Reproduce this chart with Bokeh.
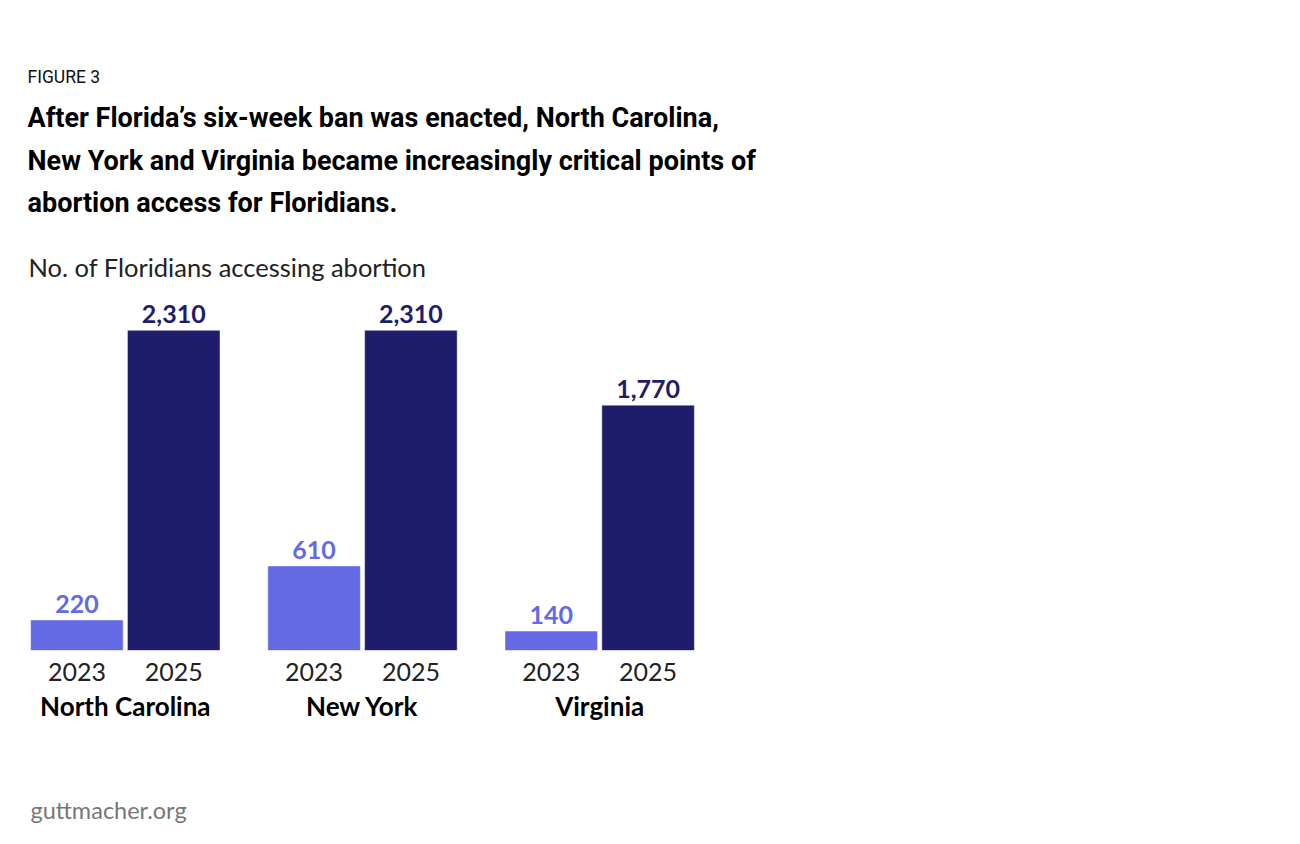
from bokeh.plotting import figure
from bokeh.layouts import column
from bokeh.models import ColumnDataSource, FactorRange, Range1d, LabelSet
from bokeh.transform import factor_cmap
from bokeh.core.properties import value
from bokeh.embed import file_html
from bokeh.resources import INLINE

# --- data -------------------------------------------------------------
states = ["North Carolina", "New York", "Virginia"]
years = ["2023", "2025"]
floridians_2023 = [220, 610, 140]
floridians_2025 = [2310, 2310, 1770]

factors = [(s, y) for s in states for y in years]
counts = [v for pair in zip(floridians_2023, floridians_2025) for v in pair]
count_labels = [f"{v:,}" for v in counts]

src = ColumnDataSource(dict(x=factors, count=counts, label=count_labels))

# --- styling ------------------------------------------------------------
LIGHT = "#6469E4"
DARK = "#1F1C6B"
BODY_FONT = "Lato"
HEAD_FONT = "Roboto"
W = 1300
HEADER_H, CHART_H, FOOTER_H = 290, 470, 84


def text_panel(height):
    """A blank strip whose data units are its own pixels (y grows downward)."""
    f = figure(width=W, height=height, x_range=Range1d(0, W), y_range=Range1d(height, 0),
               output_backend="svg", toolbar_location=None,
               x_axis_location=None, y_axis_location=None,
               min_border=0, outline_line_color=None, frame_align=False,
               background_fill_color="white", border_fill_color="white")
    f.grid.visible = False
    return f


def put(f, text, x, y, font, size, style="normal", color="#111111"):
    f.text(x=[x], y=[y], text=[text], text_align="left", text_baseline="alphabetic",
           text_font=value(font), text_font_size=f"{size}px",
           text_font_style=style, text_color=color)


# --- header: figure number, headline, units -----------------------------
header = text_panel(HEADER_H)
put(header, "FIGURE 3", 27, 76, HEAD_FONT, 17.5)
title_lines = [
    "After Florida\u2019s six-week ban was enacted, North Carolina,",
    "New York and Virginia became increasingly critical points of",
    "abortion access for Floridians.",
]
for line, base in zip(title_lines, [117, 160, 202]):
    put(header, line, 27, base, HEAD_FONT, 27, style="bold", color="#000000")
put(header, "No. of Floridians accessing abortion", 28, 266, BODY_FONT, 25.5, color="#222222")

# --- bars -----------------------------------------------------------------
FRAME_L, FRAME_W, FRAME_H = 28, 668, 360
p = figure(
    width=W, height=CHART_H,
    x_range=FactorRange(*factors, range_padding=0, group_padding=0.45, factor_padding=0.0),
    y_range=Range1d(0, 2597),
    output_backend="svg", toolbar_location=None,
    min_border_left=FRAME_L, min_border_right=W - FRAME_L - FRAME_W,
    min_border_top=0, min_border_bottom=CHART_H - FRAME_H,
    y_axis_location=None, outline_line_color=None, frame_align=False,
    background_fill_color="white", border_fill_color="white",
)
p.grid.visible = False

bar_colors = factor_cmap("x", [LIGHT, DARK], years, start=1, end=2)
p.vbar(x="x", top="count", width=0.956, source=src,
       fill_color=bar_colors, line_color="white", line_alpha=0.45, line_width=1)

p.add_layout(LabelSet(x="x", y="count", text="label", source=src,
                      text_align="center", text_baseline="alphabetic", y_offset=7,
                      text_font=value(BODY_FONT), text_font_style="bold",
                      text_font_size="25px",
                      text_color=factor_cmap("x", [LIGHT, DARK], years, start=1, end=2)))

ax = p.xaxis[0]
ax.axis_line_color = None
ax.major_tick_line_color = None
ax.minor_tick_line_color = None
ax.separator_line_color = None
ax.major_label_standoff = 6
ax.major_label_text_font = BODY_FONT
ax.major_label_text_font_size = "25px"
ax.major_label_text_color = "#222222"
ax.major_label_text_line_height = 1.0
ax.group_text_font = BODY_FONT
ax.group_text_font_size = "26px"
ax.group_text_font_style = "bold"
ax.group_text_color = "#000000"
ax.group_text_line_height = 1.0

# --- footer: source -------------------------------------------------------
footer = text_panel(FOOTER_H)
put(footer, "guttmacher.org", 30, 49, BODY_FONT, 23.5, color="#777777")

page = column(header, p, footer, spacing=0)
open("out.html", "w").write(file_html(page, INLINE))
